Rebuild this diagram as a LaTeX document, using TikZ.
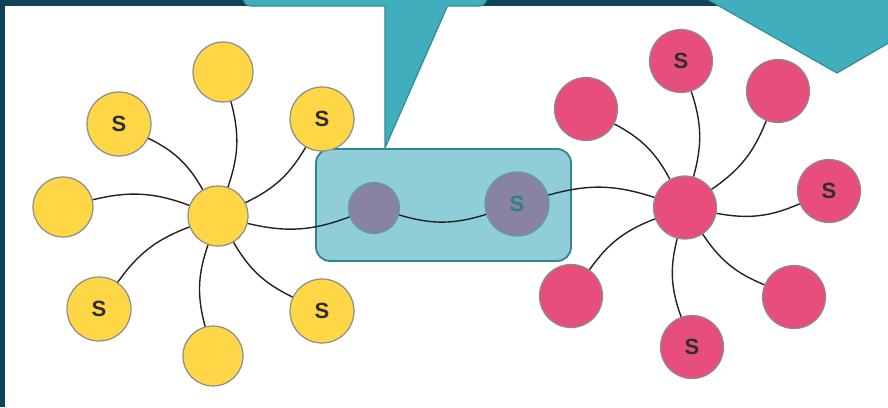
\documentclass[tikz,border=0pt]{standalone}
\usepackage{fontspec}
\setmainfont{Liberation Sans}
\definecolor{navy}{HTML}{0F435A}
\definecolor{calfill}{HTML}{41AEBD}
\definecolor{caledge}{HTML}{2E8D99}
\definecolor{boxfill}{HTML}{8FCED8}
\definecolor{boxedge}{HTML}{2E8690}
\definecolor{yel}{HTML}{FFD645}
\definecolor{pnk}{HTML}{E84E7C}
\definecolor{purp}{HTML}{8883A0}
\definecolor{purpedge}{HTML}{5E9CA4}
\definecolor{nedge}{HTML}{8C8C8C}
\definecolor{stext}{HTML}{2E2E2E}
\definecolor{steal}{HTML}{2D7F8A}
\definecolor{link}{HTML}{222222}
\begin{document}
\begin{tikzpicture}[x=1pt,y=-1pt,
  base/.style={circle, inner sep=0pt, line width=1.2pt, draw=nedge,
    font=\bfseries\fontsize{22}{22}\selectfont, text=stext},
  ysmall/.style={base, fill=yel, minimum size=60pt},
  ybig/.style={base, fill=yel, minimum size=64pt},
  pk/.style={base, fill=pnk, minimum size=63pt},
  pu/.style={base, fill=purp, draw=purpedge, text=steal},
  lk/.style={draw=link, line width=1.4pt},
  callout/.style={fill=calfill, draw=caledge, line width=1.2pt, line join=miter}
]
\clip (0,0) rectangle (888,407);
\fill[navy] (0,0) rectangle (888,407);
\fill[white] (5,6) rectangle (888,407);
% top callouts
\filldraw[callout] (385,-2) -- (385,148) -- (451,-2) -- cycle;
\filldraw[callout, rounded corners=8pt] (243,-30) rectangle (487,6);
\fill[calfill] (386,5) -- (386,7) -- (448,7) -- (448,5) -- cycle;
\filldraw[callout] (705,-2) -- (837,73) -- (892,41) -- (892,-2) -- cycle;
% central box
\node[draw=boxedge, fill=boxfill, line width=1.8pt, rounded corners=14pt,
  minimum width=255pt, minimum height=112pt, inner sep=0pt] (box) at (443.5,205) {};
% yellow cluster
\node[ysmall] (yh) at (218,216) {};
\node[ysmall] (y1) at (223,72) {};
\node[ybig] (y2) at (119,124) {S};
\node[ybig] (y3) at (322,119) {S};
\node[ysmall] (y4) at (63,207) {};
\node[ybig] (y5) at (99,309) {S};
\node[ysmall] (y6) at (213,356) {};
\node[ybig] (y7) at (322,311) {S};
% purple
\node[pu, minimum size=51pt] (p1) at (374,208) {};
\node[pu, minimum size=64pt] (p2) at (517,204) {S};
% pink cluster
\node[pk] (ph) at (685,207.5) {};
\node[pk] (k1) at (681,61) {S};
\node[pk] (k2) at (586,109) {};
\node[pk] (k3) at (778,91) {};
\node[pk] (k4) at (829,191) {S};
\node[pk] (k5) at (794,297) {};
\node[pk] (k6) at (692,347) {S};
\node[pk] (k7) at (571,296) {};
% links
\foreach \t in {y1,y2,y3,y4,y5,y6,y7,p1}
  \draw[lk] (yh) to[bend right=17] (\t);
\draw[lk] (p1) to[bend right=17] (p2);
\foreach \t in {k1,k2,k3,k4,k5,k6,k7,p2}
  \draw[lk] (ph) to[bend right=17] (\t);
\end{tikzpicture}
\end{document}
